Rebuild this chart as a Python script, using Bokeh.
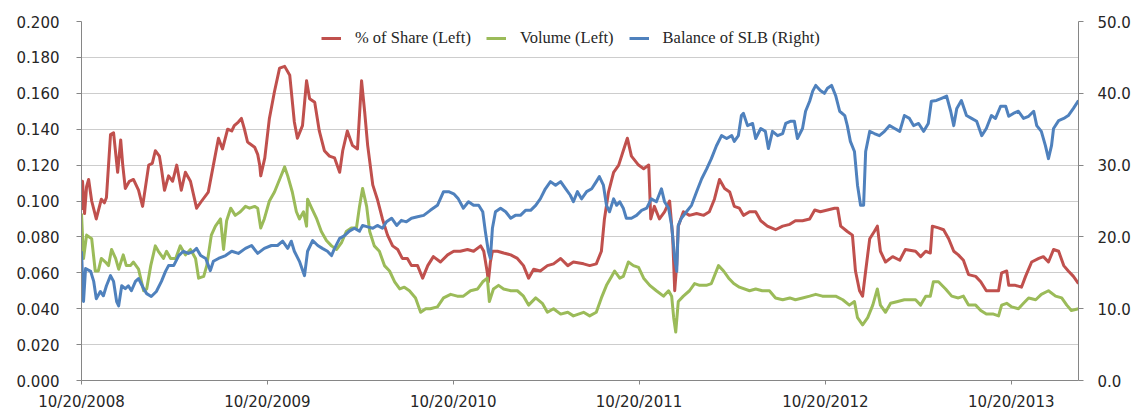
from datetime import datetime, timedelta
from bokeh.plotting import figure
from bokeh.models import (Range1d, LinearAxis, FixedTicker, DatetimeTickFormatter,
                          PrintfTickFormatter, Legend, LegendItem, ColumnDataSource)
from bokeh.embed import file_html
from bokeh.resources import INLINE

# ---------------- data (days since 10/20/2008) ----------------
START = datetime(2008, 10, 20)
END_DAYS = 1958
tick_years = [2008, 2009, 2010, 2011, 2012, 2013]
left_ticks = [0.0, 0.02, 0.04, 0.06, 0.08, 0.10, 0.12, 0.14, 0.16, 0.18, 0.20]
right_ticks = [0, 10, 20, 30, 40, 50]
series_names = ["% of Share (Left)", "Volume (Left)", "Balance of SLB (Right)"]

red_day = [0, 2, 6, 10, 14, 20, 29, 39, 45, 49, 57, 63, 71, 77, 81, 86, 94, 102, 112, 120,
           132, 139, 145, 153, 157, 163, 171, 179, 187, 196, 204, 214, 226, 236, 249, 259,
           269, 277, 287, 295, 300, 308, 314, 320, 326, 330, 340, 346, 350, 352, 360, 369,
           379, 389, 399, 409, 418, 424, 434, 442, 448, 458, 467, 477, 487, 497, 507, 513,
           522, 532, 542, 550, 556, 562, 572, 581, 591, 601, 611, 621, 630, 640, 648, 660,
           670, 680, 691, 705, 719, 731, 744, 758, 770, 784, 790, 797, 799, 803, 807, 817,
           829, 843, 856, 868, 878, 888, 901, 915, 927, 941, 955, 966, 986, 998, 1011, 1021,
           1027, 1035, 1045, 1055, 1064, 1072, 1080, 1094, 1104, 1114, 1118, 1125, 1135,
           1145, 1155, 1161, 1165, 1169, 1172, 1182, 1194, 1208, 1222, 1233, 1243, 1253,
           1263, 1273, 1282, 1292, 1300, 1312, 1324, 1334, 1347, 1363, 1377, 1391, 1402,
           1416, 1430, 1440, 1451, 1465, 1479, 1485, 1491, 1504, 1514, 1520, 1528, 1534,
           1540, 1548, 1557, 1563, 1569, 1579, 1593, 1607, 1618, 1638, 1648, 1658, 1667,
           1671, 1683, 1693, 1703, 1713, 1722, 1732, 1742, 1756, 1766, 1777, 1791, 1801,
           1807, 1817, 1821, 1834, 1846, 1854, 1866, 1880, 1889, 1899, 1909, 1919, 1929,
           1938, 1948, 1958]
red_val = [0.095, 0.111, 0.093, 0.108, 0.112, 0.100, 0.090, 0.101, 0.099, 0.102, 0.137, 0.138,
           0.116, 0.134, 0.120, 0.107, 0.111, 0.112, 0.106, 0.097, 0.120, 0.121, 0.128, 0.125,
           0.118, 0.106, 0.114, 0.111, 0.120, 0.106, 0.116, 0.111, 0.096, 0.100, 0.105, 0.120,
           0.135, 0.129, 0.140, 0.139, 0.142, 0.144, 0.146, 0.140, 0.133, 0.132, 0.130, 0.126,
           0.120, 0.114, 0.124, 0.146, 0.161, 0.174, 0.175, 0.170, 0.144, 0.135, 0.142, 0.167,
           0.157, 0.155, 0.139, 0.128, 0.125, 0.124, 0.116, 0.128, 0.139, 0.131, 0.129, 0.167,
           0.150, 0.131, 0.109, 0.101, 0.090, 0.081, 0.075, 0.073, 0.068, 0.068, 0.064, 0.064,
           0.057, 0.064, 0.069, 0.066, 0.070, 0.072, 0.072, 0.073, 0.072, 0.075, 0.072, 0.060,
           0.055, 0.066, 0.072, 0.072, 0.071, 0.070, 0.068, 0.064, 0.057, 0.062, 0.061, 0.064,
           0.065, 0.068, 0.064, 0.066, 0.065, 0.064, 0.065, 0.072, 0.090, 0.105, 0.116, 0.120,
           0.128, 0.135, 0.125, 0.120, 0.118, 0.120, 0.090, 0.097, 0.090, 0.094, 0.100, 0.080,
           0.050, 0.065, 0.086, 0.094, 0.092, 0.093, 0.092, 0.094, 0.101, 0.112, 0.107, 0.105,
           0.097, 0.096, 0.092, 0.094, 0.094, 0.089, 0.086, 0.084, 0.086, 0.087, 0.089, 0.089,
           0.090, 0.095, 0.094, 0.095, 0.096, 0.096, 0.086, 0.083, 0.081, 0.061, 0.050, 0.047,
           0.061, 0.079, 0.083, 0.086, 0.072, 0.066, 0.069, 0.067, 0.073, 0.072, 0.069, 0.072,
           0.071, 0.086, 0.085, 0.084, 0.079, 0.072, 0.070, 0.067, 0.059, 0.058, 0.055, 0.050,
           0.050, 0.050, 0.060, 0.061, 0.053, 0.053, 0.052, 0.058, 0.066, 0.068, 0.069, 0.066,
           0.073, 0.072, 0.064, 0.061, 0.058, 0.054]

green_day = [0, 4, 10, 20, 27, 33, 39, 47, 53, 59, 67, 73, 82, 88, 96, 102, 112, 122, 128, 136,
             145, 151, 161, 167, 175, 185, 194, 204, 214, 224, 230, 240, 246, 255, 263, 273,
             279, 285, 293, 302, 312, 322, 330, 340, 346, 352, 359, 369, 379, 389, 399, 405,
             414, 422, 428, 436, 442, 444, 452, 462, 471, 481, 491, 501, 511, 520, 530, 540,
             546, 552, 560, 566, 575, 585, 595, 605, 615, 625, 634, 644, 656, 666, 676, 685,
             699, 711, 725, 738, 750, 764, 778, 788, 797, 801, 809, 819, 829, 843, 856, 868,
             878, 892, 905, 915, 927, 941, 955, 966, 986, 998, 1011, 1021, 1031, 1041, 1047,
             1057, 1064, 1074, 1084, 1094, 1104, 1116, 1129, 1143, 1153, 1159, 1163, 1167,
             1172, 1182, 1194, 1204, 1214, 1227, 1237, 1251, 1261, 1271, 1281, 1292, 1312,
             1324, 1337, 1351, 1363, 1377, 1391, 1402, 1416, 1430, 1442, 1455, 1469, 1481,
             1495, 1508, 1518, 1524, 1534, 1544, 1554, 1563, 1569, 1579, 1589, 1603, 1616,
             1638, 1648, 1658, 1667, 1673, 1683, 1697, 1709, 1722, 1732, 1742, 1756, 1766,
             1777, 1791, 1801, 1807, 1817, 1827, 1840, 1850, 1860, 1874, 1885, 1899, 1913,
             1925, 1935, 1944, 1958]
green_val = [0.093, 0.068, 0.081, 0.079, 0.061, 0.061, 0.068, 0.066, 0.064, 0.073, 0.068, 0.062,
             0.070, 0.064, 0.064, 0.066, 0.062, 0.050, 0.051, 0.064, 0.075, 0.072, 0.068, 0.072,
             0.068, 0.068, 0.075, 0.070, 0.073, 0.068, 0.057, 0.058, 0.064, 0.081, 0.086, 0.090,
             0.073, 0.089, 0.096, 0.092, 0.094, 0.097, 0.096, 0.097, 0.096, 0.085, 0.090, 0.100,
             0.105, 0.112, 0.119, 0.114, 0.105, 0.094, 0.090, 0.094, 0.086, 0.101, 0.096, 0.090,
             0.083, 0.078, 0.075, 0.073, 0.077, 0.083, 0.085, 0.085, 0.097, 0.107, 0.097, 0.083,
             0.075, 0.072, 0.064, 0.061, 0.055, 0.051, 0.052, 0.050, 0.046, 0.038, 0.040, 0.040,
             0.041, 0.046, 0.048, 0.047, 0.047, 0.050, 0.051, 0.055, 0.057, 0.044, 0.051, 0.053,
             0.051, 0.050, 0.050, 0.047, 0.042, 0.046, 0.043, 0.038, 0.040, 0.037, 0.038, 0.036,
             0.038, 0.036, 0.038, 0.046, 0.053, 0.058, 0.061, 0.057, 0.058, 0.066, 0.064, 0.063,
             0.057, 0.053, 0.050, 0.047, 0.050, 0.047, 0.035, 0.027, 0.044, 0.047, 0.050, 0.054,
             0.053, 0.053, 0.054, 0.064, 0.061, 0.057, 0.054, 0.052, 0.050, 0.051, 0.050, 0.050,
             0.046, 0.045, 0.046, 0.045, 0.046, 0.047, 0.048, 0.047, 0.047, 0.047, 0.045, 0.042,
             0.044, 0.035, 0.031, 0.035, 0.042, 0.051, 0.042, 0.038, 0.043, 0.044, 0.045, 0.045,
             0.042, 0.047, 0.047, 0.055, 0.055, 0.051, 0.047, 0.046, 0.047, 0.042, 0.042, 0.039,
             0.037, 0.037, 0.036, 0.042, 0.043, 0.041, 0.040, 0.043, 0.046, 0.045, 0.048, 0.050,
             0.047, 0.046, 0.042, 0.039, 0.040]

blue_day = [0, 4, 8, 18, 24, 29, 37, 43, 49, 57, 63, 69, 73, 79, 86, 92, 98, 106, 112, 122,
            128, 137, 147, 157, 165, 171, 181, 191, 200, 210, 220, 226, 234, 244, 253, 259,
            269, 283, 295, 308, 322, 334, 346, 359, 373, 385, 395, 405, 412, 418, 428, 438,
            444, 454, 464, 473, 483, 491, 497, 507, 517, 526, 536, 546, 552, 562, 572, 581,
            591, 599, 609, 619, 628, 638, 648, 660, 672, 685, 699, 711, 721, 731, 740, 750,
            760, 770, 780, 788, 793, 799, 803, 807, 813, 823, 833, 843, 852, 862, 872, 882,
            892, 901, 911, 921, 931, 941, 951, 960, 966, 974, 982, 992, 1002, 1011, 1017,
            1025, 1031, 1037, 1045, 1051, 1057, 1064, 1070, 1080, 1090, 1100, 1110, 1119,
            1129, 1139, 1145, 1153, 1159, 1165, 1169, 1172, 1178, 1188, 1198, 1208, 1218,
            1228, 1237, 1247, 1257, 1267, 1277, 1282, 1290, 1296, 1300, 1308, 1318, 1324,
            1334, 1343, 1349, 1357, 1367, 1377, 1383, 1392, 1400, 1406, 1416, 1422, 1430,
            1436, 1442, 1451, 1459, 1465, 1473, 1481, 1489, 1499, 1504, 1510, 1518, 1524,
            1530, 1536, 1540, 1548, 1557, 1567, 1577, 1587, 1597, 1607, 1616, 1626, 1634,
            1644, 1654, 1663, 1669, 1679, 1689, 1699, 1707, 1713, 1719, 1728, 1738, 1748,
            1758, 1768, 1777, 1787, 1795, 1805, 1815, 1821, 1830, 1840, 1850, 1860, 1870,
            1876, 1885, 1893, 1899, 1905, 1909, 1919, 1929, 1938, 1948, 1958]
blue_val = [18.0, 11.0, 15.6, 15.2, 13.8, 11.4, 12.4, 11.8, 13.2, 14.6, 13.8, 11.0, 10.4, 13.2,
            12.8, 13.2, 12.5, 13.8, 14.2, 12.8, 12.1, 11.7, 12.4, 13.8, 15.2, 16.0, 16.0, 17.4,
            18.0, 17.7, 18.0, 18.4, 17.4, 17.0, 15.3, 16.6, 17.0, 17.4, 18.0, 17.7, 18.4, 18.8,
            17.7, 18.4, 18.8, 18.8, 19.4, 18.4, 19.4, 18.0, 16.6, 14.6, 18.0, 19.5, 18.8, 18.4,
            18.0, 17.4, 18.4, 19.8, 20.2, 20.8, 21.2, 20.8, 21.6, 21.4, 21.2, 21.6, 21.2, 22.1,
            22.6, 21.6, 22.3, 22.1, 22.6, 22.8, 23.0, 23.7, 24.4, 26.3, 26.3, 26.0, 25.3, 24.0,
            24.9, 24.4, 24.4, 23.5, 20.8, 18.0, 17.0, 21.2, 23.5, 24.0, 23.5, 22.6, 23.0, 23.0,
            23.7, 23.7, 24.4, 25.3, 26.7, 27.7, 27.2, 27.7, 26.7, 25.8, 24.9, 26.3, 25.3, 26.3,
            26.7, 27.7, 28.4, 27.2, 24.4, 23.5, 25.3, 24.4, 24.9, 24.0, 22.6, 22.6, 23.0, 23.7,
            24.0, 25.3, 24.9, 26.7, 24.9, 24.0, 21.6, 17.0, 15.2, 21.6, 22.6, 23.5, 24.4, 26.3,
            28.1, 29.5, 30.9, 32.7, 34.1, 33.7, 34.1, 33.3, 34.1, 36.9, 37.2, 35.5, 35.8, 33.7,
            35.1, 34.7, 32.3, 34.7, 34.1, 34.4, 35.8, 36.1, 36.1, 33.7, 35.1, 37.5, 38.9, 40.3,
            41.1, 40.4, 40.0, 40.7, 41.1, 39.7, 37.5, 36.9, 35.5, 33.3, 31.9, 27.2, 24.4, 24.4,
            31.9, 34.7, 34.4, 34.1, 34.7, 35.5, 35.1, 34.7, 36.9, 36.5, 35.5, 35.8, 34.7, 35.8,
            38.9, 39.0, 39.3, 39.6, 37.5, 35.5, 37.9, 39.0, 36.9, 36.5, 36.1, 34.1, 35.1, 36.9,
            36.5, 38.2, 38.2, 36.8, 37.2, 37.5, 36.5, 36.8, 37.5, 35.5, 34.7, 32.7, 30.9, 32.7,
            35.1, 36.2, 36.5, 36.9, 37.9, 39.0]

RED, GREEN, BLUE = "#C0504D", "#9BBB59", "#4F81BD"
AXIS_COLOR = "#868686"
TEXT_COLOR = "#262626"


def to_dates(days):
    return [START + timedelta(days=d) for d in days]


p = figure(x_axis_type="datetime", frame_width=997, frame_height=359,
           min_border_left=81, min_border_right=56, min_border_top=21, min_border_bottom=32,
           x_range=Range1d(START, START + timedelta(days=END_DAYS)),
           y_range=Range1d(0, 0.2), output_backend="svg", toolbar_location=None)
p.extra_y_ranges = {"right": Range1d(0, 50)}
p.outline_line_color = None
p.background_fill_color = "white"
p.border_fill_color = "white"

src_r = ColumnDataSource(dict(x=to_dates(red_day), y=red_val))
src_g = ColumnDataSource(dict(x=to_dates(green_day), y=green_val))
src_b = ColumnDataSource(dict(x=to_dates(blue_day), y=blue_val))

r1 = p.line("x", "y", source=src_r, line_color=RED, line_width=3, line_join="round")
r2 = p.line("x", "y", source=src_g, line_color=GREEN, line_width=3, line_join="round")
r3 = p.line("x", "y", source=src_b, line_color=BLUE, line_width=3, line_join="round",
            y_range_name="right")

# grid
p.xgrid.grid_line_color = None
p.ygrid.ticker = FixedTicker(ticks=left_ticks)
p.ygrid.grid_line_color = "#9a9a9a"
p.ygrid.grid_line_dash = "1 1"
p.ygrid.grid_line_width = 1

# x axis
epoch = datetime(1970, 1, 1)
xt = [(datetime(y, 10, 20) - epoch).total_seconds() * 1000 for y in tick_years]
xa = p.xaxis[0]
xa.ticker = FixedTicker(ticks=xt)
fmt = "%m/%d/%Y"
xa.formatter = DatetimeTickFormatter(milliseconds=fmt, seconds=fmt, minsec=fmt, minutes=fmt,
                                     hourmin=fmt, hours=fmt, days=fmt, months=fmt, years=fmt)
xa.minor_tick_line_color = None
xa.major_tick_in = 0
xa.major_tick_out = 4
xa.major_label_standoff = 8

# left axis
ya = p.yaxis[0]
ya.ticker = FixedTicker(ticks=left_ticks)
ya.formatter = PrintfTickFormatter(format="%.3f")
ya.minor_tick_line_color = None
ya.major_tick_in = 0
ya.major_tick_out = 5
ya.major_label_standoff = 17

# right axis
ra = LinearAxis(y_range_name="right", ticker=FixedTicker(ticks=right_ticks),
                formatter=PrintfTickFormatter(format="%.1f"))
ra.minor_tick_line_color = None
ra.major_tick_in = 0
ra.major_tick_out = 5
ra.major_label_standoff = 14
p.add_layout(ra, "right")

for ax in (xa, ya, ra):
    ax.axis_line_color = AXIS_COLOR
    ax.major_tick_line_color = AXIS_COLOR
    ax.major_label_text_font = "DejaVu Sans"
    ax.major_label_text_font_size = "15px"
    ax.major_label_text_color = TEXT_COLOR

legend = Legend(items=[LegendItem(label=series_names[0], renderers=[r1]),
                       LegendItem(label=series_names[1], renderers=[r2]),
                       LegendItem(label=series_names[2], renderers=[r3])],
                orientation="horizontal", location=(240, 332))
legend.padding = 0
legend.margin = 0
legend.spacing = 15
legend.glyph_width = 20
legend.glyph_height = 20
legend.label_height = 20
legend.label_standoff = 14
legend.border_line_color = None
legend.background_fill_alpha = 0
legend.label_text_font = "Liberation Serif"
legend.label_text_font_size = "16.5px"
legend.label_text_color = TEXT_COLOR
p.add_layout(legend)

open("out.html", "w").write(file_html(p, INLINE))
